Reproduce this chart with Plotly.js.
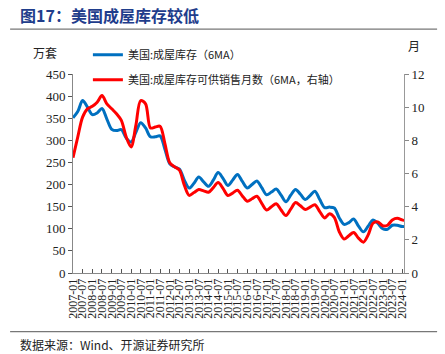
<!DOCTYPE html>
<html>
<head>
<meta charset="utf-8">
<script src="https://cdn.plot.ly/plotly-3.0.1.min.js"></script>
<style>html,body{margin:0;padding:0;background:#fff;}#chart{width:445px;height:354px;}</style>
</head>
<body>
<div id="chart"></div>
<script>
// Quarterly dates
const dates = [];
for (let y = 2007; y <= 2024; y++) {
  for (const m of ['01','04','07','10']) {
    if (y === 2024 && m !== '01') break;
    dates.push(y + '-' + m + '-01');
  }
}
dates.push('2024-02-06');

// 美国:成屋库存(6MA), 万套
const inventory = [
  351,365,390,375,
  358,362,372,348,
  325,322,324,305,
  296,318,340,328,
  308,308,310,280,
  247,240,235,210,
  192,203,217,206,
  196,210,227,214,
  198,210,223,207,
  192,200,208,193,
  177,183,190,176,
  161,176,189,178,
  166,175,185,166,
  148,149,147,125,
  110,114,122,106,
  93,106,120,112,
  100,99,108,108,
  105,105
];

// 美国:成屋库存可供销售月数(6MA), 月
const monthsSupply = [
  6.95,8.2,9.4,9.9,
  10.05,10.3,10.7,10.2,
  9.9,9.6,9.2,8.2,
  7.6,8.9,10.4,10.2,
  8.75,8.8,8.85,7.8,
  6.65,6.4,6.2,5.3,
  4.68,4.85,5.03,4.95,
  4.87,5.15,5.45,5.1,
  4.67,4.82,4.99,4.65,
  4.33,4.48,4.63,4.2,
  3.8,4.0,4.18,3.8,
  3.46,3.85,4.25,4.05,
  3.83,3.97,4.12,3.7,
  3.32,3.58,3.35,2.5,
  2.05,2.25,2.44,2.1,
  1.86,2.3,3.0,3.08,
  2.85,2.88,3.2,3.3,
  3.2,3.17
];

// x tick labels every 6 months
const tickVals = [], tickText = [];
for (let y = 2007; y <= 2024; y++) {
  for (const m of ['01','07']) {
    if (y === 2024 && m === '07') break;
    tickVals.push(y + '-' + m + '-01');
    tickText.push(y + '-' + m);
  }
}

const serif = 'Liberation Serif, serif';
const cjk = 'Noto Sans CJK SC';

const traces = [
  {x: dates, y: inventory, type: 'scatter', mode: 'lines', name: '美国:成屋库存（6MA）',
   line: {color: '#0070C0', width: 3, shape: 'spline', smoothing: 0.9}, legendgroup: 'a'},
  {x: dates, y: monthsSupply, type: 'scatter', mode: 'lines', yaxis: 'y2',
   name: '美国:成屋库存可供销售月数（6MA，右轴）',
   line: {color: '#FF0000', width: 3, shape: 'spline', smoothing: 0.9}, legendgroup: 'b'}
];

const layout = {
  width: 445, height: 354,
  margin: {l: 73, r: 41, t: 74, b: 81, pad: 0},
  paper_bgcolor: '#fff', plot_bgcolor: '#fff',
  showlegend: true,
  legend: {x: 0.045, y: 1.17, xanchor: 'left', yanchor: 'top', bgcolor: 'rgba(0,0,0,0)',
    font: {family: cjk, size: 11, color: '#222'}, tracegroupgap: 6, traceorder: 'grouped'},
  xaxis: {type: 'date', range: ['2007-01-01', '2024-02-06'], tickvals: tickVals, ticktext: tickText,
    tickangle: -90, ticks: 'inside', ticklen: 4, tickcolor: '#555', showgrid: false, zeroline: false,
    showline: true, linecolor: '#888', linewidth: 1,
    tickfont: {family: serif, size: 12, color: '#222'}},
  yaxis: {range: [0, 450], dtick: 50, ticks: 'outside', ticklen: 4, tickcolor: '#555', showgrid: false,
    zeroline: false, showline: true, linecolor: '#888', linewidth: 1,
    tickfont: {family: serif, size: 13, color: '#222'}},
  yaxis2: {range: [0, 12], dtick: 2, overlaying: 'y', side: 'right', ticks: 'outside', ticklen: 4,
    tickcolor: '#888', showgrid: false, zeroline: false, showline: true, linecolor: '#999', linewidth: 1,
    tickfont: {family: serif, size: 13, color: '#222'}},
  shapes: [
    {type: 'line', xref: 'paper', yref: 'paper', x0: -0.19, x1: 1.1, y0: 1.226, y1: 1.226,
     line: {color: '#777', width: 1.2}},
    {type: 'line', xref: 'paper', yref: 'paper', x0: -0.19, x1: 1.1, y0: -0.295, y1: -0.295,
     line: {color: '#777', width: 1.2}}
  ],
  annotations: [
    {text: '<b>图17：美国成屋库存较低</b>', xref: 'paper', yref: 'paper', x: -0.165, y: 1.296,
     xanchor: 'left', yanchor: 'middle', showarrow: false, font: {family: cjk, size: 16, color: '#1F3D8C'}},
    {text: '万套', xref: 'paper', yref: 'paper', x: -0.085, y: 1.11, xanchor: 'center', yanchor: 'middle',
     showarrow: false, font: {family: cjk, size: 12, color: '#222'}},
    {text: '月', xref: 'paper', yref: 'paper', x: 1.03, y: 1.145, xanchor: 'center', yanchor: 'middle',
     showarrow: false, font: {family: cjk, size: 12, color: '#222'}},
    {text: '数据来源：Wind、开源证券研究所', xref: 'paper', yref: 'paper', x: -0.165, y: -0.36,
     xanchor: 'left', yanchor: 'middle', showarrow: false, font: {family: cjk, size: 12, color: '#222'}}
  ]
};

Plotly.newPlot('chart', traces, layout, {displayModeBar: false, staticPlot: true});
</script>
</body>
</html>
